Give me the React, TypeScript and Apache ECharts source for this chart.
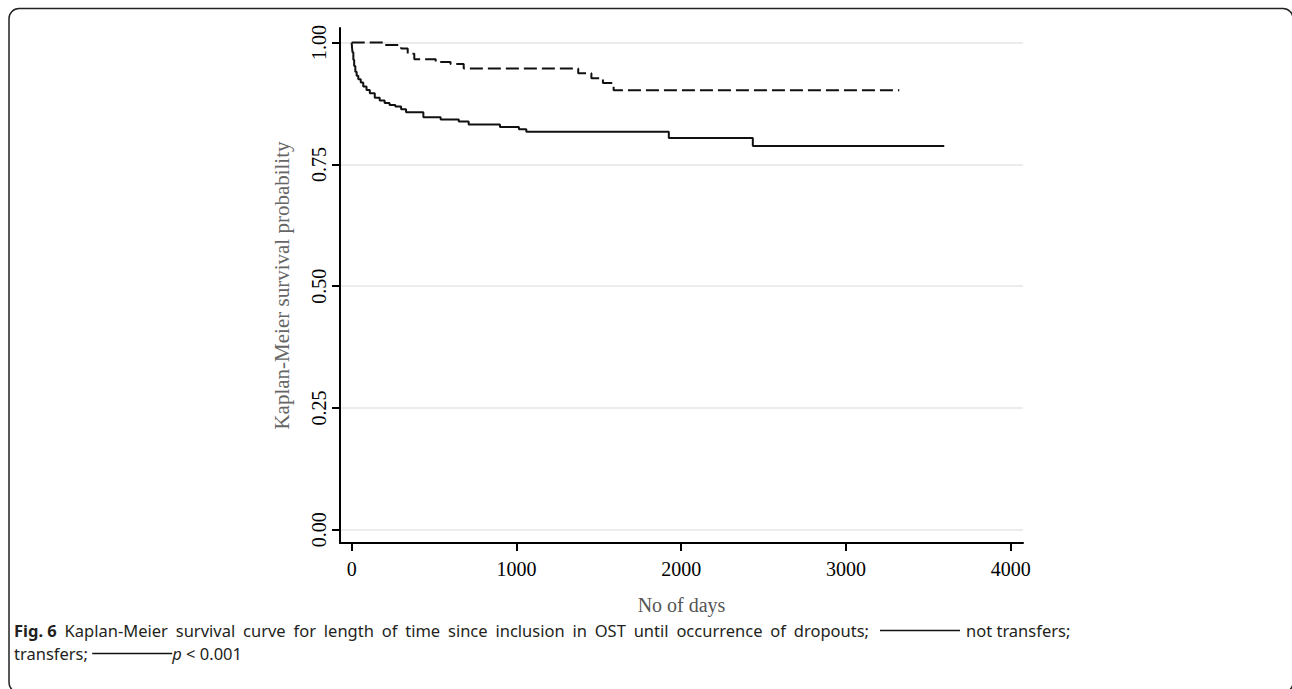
import React, { useEffect, useRef } from "react";
import * as echarts from "echarts";

// Tick positions and labels
const xTicks = [0, 1000, 2000, 3000, 4000];
const yTicks = [0, 0.25, 0.5, 0.75, 1];

// Kaplan-Meier step data: not transfers (solid)
const notTransferDays = [0, 2, 5, 10, 15, 22, 30, 40, 55, 70, 90, 110, 140, 170, 200, 230, 265, 300, 330, 435, 540, 650, 710, 900, 1015, 1060, 1925, 2435, 3597];
const notTransferSurv = [1.0, 0.99, 0.98, 0.965, 0.952, 0.94, 0.932, 0.925, 0.918, 0.91, 0.903, 0.896, 0.887, 0.881, 0.876, 0.872, 0.869, 0.863, 0.857, 0.847, 0.842, 0.838, 0.832, 0.827, 0.822, 0.817, 0.804, 0.788, 0.788];

// Kaplan-Meier step data: transfers (dashed)
const transferDays = [0, 190, 300, 340, 380, 510, 600, 680, 1375, 1455, 1525, 1590, 3324];
const transferSurv = [1.0, 0.995, 0.988, 0.977, 0.966, 0.96, 0.956, 0.947, 0.937, 0.927, 0.917, 0.902, 0.902];

// Caption text
const captionLead = "Fig. 6";
const captionWords = ["Kaplan-Meier", "survival", "curve", "for", "length", "of", "time", "since", "inclusion", "in", "OST", "until", "occurrence", "of", "dropouts;"];
const captionLegend1 = "not transfers;";
const captionLine2 = "transfers;";
const captionP = "p";
const captionPValue = " < 0.001";

const SERIF = "'Liberation Serif', 'DejaVu Serif', serif";
const SANS = "'Noto Sans', 'Open Sans', sans-serif";
const CAP = 16.5;
const CAP_LEFT = 14;
const LINE1_TEXT_END = 869;

function measure(font: string, text: string): number {
  const c = document.createElement("canvas").getContext("2d");
  if (!c) return text.length * 8;
  c.font = font;
  return c.measureText(text).width;
}

export default function App() {
  const ref = useRef<HTMLDivElement>(null);

  useEffect(() => {
    if (!ref.current) return;
    const chart = echarts.init(ref.current, null, { renderer: "svg" });
    const solid = notTransferDays.map((d, i) => [d, notTransferSurv[i]]);
    const dashed = transferDays.map((d, i) => [d, transferSurv[i]]);

    // justified first caption line: compute word spacing
    const leadW = measure(`bold ${CAP}px 'Noto Sans'`, captionLead);
    const wordsW = captionWords.reduce((s, w) => s + measure(`${CAP}px 'Noto Sans'`, w), 0);
    const nSpaces = captionWords.length;
    const sp = Math.max(4, (LINE1_TEXT_END - CAP_LEFT - leadW - wordsW) / nSpaces);

    const line1 =
      `{b|${captionLead}}` +
      captionWords.map((w) => `{s| }${w}`).join("") +
      `{g| }{rule| }{h| }${captionLegend1}`;
    const line2 = `${captionLine2} {rule| }{i|${captionP}}${captionPValue}`;

    chart.setOption({
      animation: false,
      backgroundColor: "#ffffff",
      grid: { left: 340, right: 269, top: 28, bottom: 146 },
      xAxis: {
        type: "value",
        min: -71,
        max: 4075,
        axisLine: { show: true, onZero: false, lineStyle: { color: "#000", width: 2 } },
        axisTick: { show: true, length: 8, customValues: xTicks, lineStyle: { color: "#000", width: 2 } },
        axisLabel: {
          customValues: xTicks,
          formatter: (v: number) => String(v),
          fontFamily: SERIF,
          fontSize: 20,
          color: "#000",
          margin: 16,
        },
        splitLine: { show: false },
        name: "No of days",
        nameLocation: "middle",
        nameGap: 52,
        nameTextStyle: { fontFamily: SERIF, fontSize: 20, color: "#555" },
      },
      yAxis: {
        type: "value",
        min: -0.027,
        max: 1.03,
        axisLine: { show: true, onZero: false, lineStyle: { color: "#000", width: 2 } },
        axisTick: { show: true, length: 8, customValues: yTicks, lineStyle: { color: "#000", width: 2 } },
        axisLabel: {
          customValues: yTicks,
          formatter: (v: number) => v.toFixed(2),
          rotate: 90,
          fontFamily: SERIF,
          fontSize: 20,
          color: "#000",
          margin: 11,
        },
        splitLine: { show: false },
        name: "Kaplan-Meier survival probability",
        nameLocation: "middle",
        nameGap: 48,
        nameTextStyle: { fontFamily: SERIF, fontSize: 21, color: "#666" },
      },
      series: [
        {
          name: "grid",
          type: "line",
          data: [],
          z: 1,
          silent: true,
          markLine: {
            z: 0,
            silent: true,
            symbol: "none",
            label: { show: false },
            lineStyle: { color: "#e6e6e6", type: "solid", width: 1.5 },
            data: yTicks.map((v) => ({ yAxis: v })),
          },
        },
        {
          name: "transfers",
          type: "line",
          step: "end",
          data: dashed,
          symbol: "none",
          z: 3,
          lineStyle: { color: "#111", width: 2, type: [13, 5] },
        },
        {
          name: "not transfers",
          type: "line",
          step: "end",
          data: solid,
          symbol: "none",
          z: 4,
          lineStyle: { color: "#111", width: 2 },
        },
      ],
      graphic: [
        {
          type: "rect",
          silent: true,
          shape: { x: 9, y: 8.5, width: 1284, height: 684, r: 10 },
          style: { fill: "transparent", stroke: "#222", lineWidth: 1.5 },
        },
        {
          type: "text",
          left: CAP_LEFT,
          top: 619,
          silent: true,
          style: {
            text: line1 + "\n" + line2,
            fontFamily: SANS,
            fontSize: CAP,
            lineHeight: 23,
            fill: "#231f20",
            rich: {
              b: { fontFamily: SANS, fontSize: CAP, fontWeight: "bold", lineHeight: 23, fill: "#231f20" },
              i: { fontFamily: SANS, fontSize: CAP, fontStyle: "italic", lineHeight: 23, fill: "#231f20" },
              s: { width: sp, fontSize: CAP, lineHeight: 23 },
              g: { width: 11, fontSize: CAP, lineHeight: 23 },
              h: { width: 6, fontSize: CAP, lineHeight: 23 },
              rule: { width: 80, height: 1.5, backgroundColor: "#111", fontSize: 2, lineHeight: 1.5 },
            },
          },
        },
      ],
    });

    return () => chart.dispose();
  }, []);

  return (
    <div
      ref={ref}
      style={{ position: "absolute", left: 0, top: 0, width: 1292, height: 689 }}
    />
  );
}
